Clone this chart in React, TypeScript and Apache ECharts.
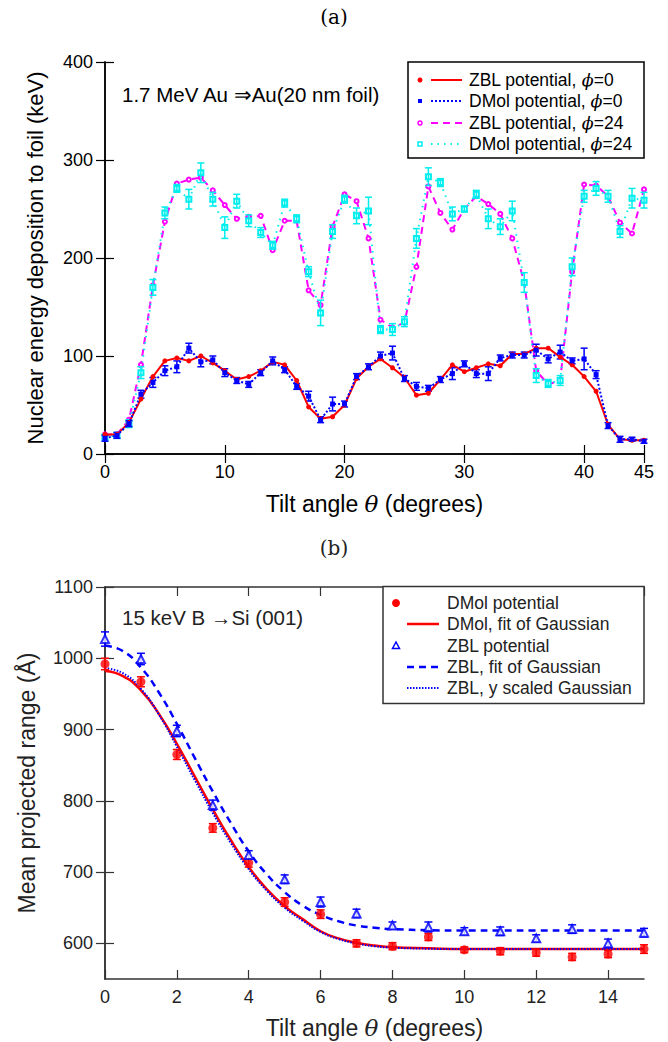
import React, { useEffect, useRef } from 'react';
import * as echarts from 'echarts';

// ---------- Data: panel (a) ----------
const anglesA = [0, 1, 2, 3, 4, 5, 6, 7, 8, 9, 10, 11, 12, 13, 14, 15, 16, 17, 18, 19, 20, 21, 22, 23, 24, 25, 26, 27, 28, 29, 30, 31, 32, 33, 34, 35, 36, 37, 38, 39, 40, 41, 42, 43, 44, 45];
const zblPhi0 = [20, 20, 32, 56, 79, 95, 98, 95, 100, 93, 85, 76, 79, 85, 94, 91, 75, 48, 36, 38, 50, 77, 89, 97, 88, 78, 60, 62, 76, 91, 84, 88, 92, 90, 102, 102, 108, 108, 99, 91, 79, 64, 30, 15, 14, 14];
const dmolPhi0 = [16, 19, 31, 61, 73, 85, 89, 108, 94, 96, 83, 75, 71, 83, 95, 86, 69, 59, 35, 51, 51, 79, 89, 100, 103, 77, 69, 67, 76, 82, 92, 82, 82, 98, 101, 101, 106, 97, 104, 95, 97, 81, 29, 15, 15, 13];
const dmolPhi0Err = [3, 3, 3, 4, 5, 5, 6, 5, 5, 4, 4, 3, 3, 3, 4, 3, 3, 5, 3, 7, 3, 3, 3, 4, 7, 3, 4, 3, 3, 6, 3, 4, 7, 3, 3, 3, 6, 4, 7, 3, 11, 4, 3, 3, 2, 2];
const zblPhi24 = [20, 20, 35, 91, 172, 237, 276, 280, 282, 269, 254, 240, 242, 243, 208, 238, 238, 167, 152, 232, 265, 258, 220, 137, 129, 134, 191, 273, 246, 229, 250, 263, 255, 245, 220, 175, 85, 71, 75, 186, 275, 274, 263, 236, 225, 270];
const dmolPhi24 = [17, 19, 31, 83, 170, 246, 271, 260, 287, 260, 231, 258, 238, 226, 213, 256, 240, 186, 144, 227, 260, 243, 248, 127, 127, 135, 220, 283, 277, 245, 250, 265, 240, 232, 248, 175, 80, 72, 75, 191, 263, 271, 263, 227, 261, 259];
const dmolPhi24Err = [3, 3, 4, 6, 8, 6, 4, 10, 10, 7, 11, 7, 6, 5, 4, 4, 4, 5, 13, 7, 4, 8, 14, 4, 6, 5, 10, 9, 4, 7, 3, 4, 10, 8, 10, 10, 7, 4, 5, 9, 6, 7, 6, 6, 10, 8];

// ---------- Data: panel (b) ----------
const anglesB = [0, 1, 2, 3, 4, 5, 6, 7, 8, 9, 10, 11, 12, 13, 14, 15];
const dmolRange = [992, 967, 865, 762, 713, 658, 641, 600, 596, 609, 591, 589, 587, 581, 585, 592];
const dmolRangeErr = [8, 7, 7, 6, 6, 6, 6, 5, 5, 5, 4, 5, 5, 5, 5, 6];
const zblRange = [1027, 999, 898, 794, 724, 690, 658, 642, 625, 623, 617, 617, 607, 620, 600, 615];
const zblRangeErr = [10, 8, 8, 7, 6, 6, 7, 6, 5, 7, 5, 6, 5, 6, 6, 6];
const fitAngles = [0, 0.5, 1, 1.5, 2, 2.5, 3, 3.5, 4, 4.5, 5, 5.5, 6, 6.5, 7, 7.5, 8, 9, 10, 11, 12, 13, 14, 15];
const dmolFit = [982, 975, 955, 922, 880, 834, 788, 745, 707, 676, 652, 634, 617, 607, 601, 597, 594.5, 593, 592, 592, 592, 592, 592, 592];
const zblFit = [1018, 1010, 987, 952, 908, 860, 813, 769, 729, 697, 672, 653, 640, 631, 625, 622, 620, 618.5, 618, 618, 618, 618, 618, 618];
const zblScaledFit = [986, 979, 957, 921, 876, 829, 783, 741, 704, 674, 650, 632, 616, 606, 600, 596, 594, 592.5, 592, 592, 592, 592, 592, 592];

const xTicksA = { min: 0, max: 45, interval: 10 };
const yTicksA = { min: 0, max: 400, interval: 100 };
const xTicksB = { min: 0, max: 15, interval: 2 };
const yTicksB = [600, 700, 800, 900, 1000, 1100];

const FONT = '"Liberation Sans", Arial, Helvetica, sans-serif';
const SERIF = '"DejaVu Serif", "Liberation Serif", serif';

const zip = (xs: number[], ys: number[]) => xs.map((x, i) => [x, ys[i]]);
const errData = (xs: number[], ys: number[], es: number[]) => xs.map((x, i) => [x, ys[i] - es[i], ys[i] + es[i]]);

function errSeries(data: number[][], color: string, xi: number, yi: number, cap: number, lw: number) {
  return {
    type: 'custom',
    xAxisIndex: xi,
    yAxisIndex: yi,
    silent: true,
    z: 3,
    data,
    encode: { x: 0, y: [1, 2] },
    renderItem: (_p: any, api: any) => {
      const x = api.value(0);
      const lo = api.coord([x, api.value(1)]);
      const hi = api.coord([x, api.value(2)]);
      const style = { stroke: color, lineWidth: lw };
      return {
        type: 'group',
        children: [
          { type: 'line', shape: { x1: lo[0], y1: lo[1], x2: hi[0], y2: hi[1] }, style },
          { type: 'line', shape: { x1: lo[0] - cap, y1: lo[1], x2: lo[0] + cap, y2: lo[1] }, style },
          { type: 'line', shape: { x1: hi[0] - cap, y1: hi[1], x2: hi[0] + cap, y2: hi[1] }, style },
        ],
      };
    },
  };
}

export default function App() {
  const ref = useRef<HTMLDivElement>(null);
  useEffect(() => {
    document.body.style.margin = '0';
    const chart = echarts.init(ref.current!, null, { renderer: 'svg' });

    const lineA = { color: '#000', width: 1.5 };
    const lineB = { color: '#333', width: 1.5 };
    const tick = (c: string) => ({ show: true, inside: true, length: 9, lineStyle: { color: c, width: 1.2 } });
    const NAME = 23;

    const xAxes = [
      {
        type: 'value', gridIndex: 0, position: 'bottom', ...xTicksA,
        axisLine: { lineStyle: lineA }, axisTick: tick('#000'), splitLine: { show: false },
        axisLabel: { color: '#000', fontSize: 18, fontFamily: FONT, margin: 9 },
        name: 'Tilt angle {i|θ} (degrees)', nameLocation: 'middle', nameGap: 38,
        nameTextStyle: { color: '#000', fontSize: NAME, fontFamily: FONT, rich: { i: { fontStyle: 'italic', fontSize: NAME, fontFamily: SERIF, color: '#000' } } },
      },
      {
        type: 'value', gridIndex: 0, position: 'top', ...xTicksA,
        axisLine: { lineStyle: lineA }, axisTick: tick('#000'), splitLine: { show: false }, axisLabel: { show: false },
      },
      {
        type: 'value', gridIndex: 1, position: 'bottom', ...xTicksB,
        axisLine: { lineStyle: lineB }, axisTick: tick('#333'), splitLine: { show: false },
        axisLabel: { color: '#222', fontSize: 18, fontFamily: FONT, margin: 9, showMaxLabel: false },
        name: 'Tilt angle {i|θ} (degrees)', nameLocation: 'middle', nameGap: 37,
        nameTextStyle: { color: '#222', fontSize: NAME, fontFamily: FONT, rich: { i: { fontStyle: 'italic', fontSize: NAME, fontFamily: SERIF, color: '#222' } } },
      },
      {
        type: 'value', gridIndex: 1, position: 'top', ...xTicksB,
        axisLine: { lineStyle: lineB }, axisTick: tick('#333'), splitLine: { show: false }, axisLabel: { show: false },
      },
    ];

    const yAxes = [
      {
        type: 'value', gridIndex: 0, position: 'left', ...yTicksA,
        axisLine: { show: true, lineStyle: lineA }, axisTick: tick('#000'), splitLine: { show: false },
        axisLabel: { color: '#000', fontSize: 18, fontFamily: FONT, margin: 12 },
        name: 'Nuclear energy deposition to foil (keV)', nameLocation: 'middle', nameGap: 59,
        nameTextStyle: { color: '#000', fontSize: 22, fontFamily: FONT },
      },
      {
        type: 'value', gridIndex: 0, position: 'right', ...yTicksA,
        axisLine: { show: true, lineStyle: lineA }, axisTick: tick('#000'), splitLine: { show: false }, axisLabel: { show: false },
      },
      {
        type: 'value', gridIndex: 1, position: 'left', min: 550, max: 1100,
        axisLine: { show: true, lineStyle: lineB }, axisTick: { ...tick('#333'), customValues: yTicksB }, splitLine: { show: false },
        axisLabel: { color: '#222', fontSize: 18, fontFamily: FONT, margin: 12, customValues: yTicksB, formatter: (v: number) => String(v) },
        name: 'Mean projected range (Å)', nameLocation: 'middle', nameGap: 67,
        nameTextStyle: { color: '#222', fontSize: 23, fontFamily: FONT },
      },
      {
        type: 'value', gridIndex: 1, position: 'right', min: 550, max: 1100,
        axisLine: { show: true, lineStyle: lineB }, axisTick: { ...tick('#333'), customValues: yTicksB }, splitLine: { show: false },
        axisLabel: { show: false },
      },
    ];

    const RED = '#ff0000', BLUE = '#0000ff', MAG = '#ff00ff', CYAN = '#00eeee';

    const series: any[] = [
      // panel (a)
      {
        name: 'ZBL potential, φ=24', type: 'line', xAxisIndex: 0, yAxisIndex: 0, data: zip(anglesA, zblPhi24),
        symbol: 'emptyCircle', symbolSize: 4, lineStyle: { color: MAG, width: 2, type: [7, 5] },
        itemStyle: { color: MAG, borderColor: MAG, borderWidth: 2 }, z: 2,
      },
      errSeries(errData(anglesA, dmolPhi24, dmolPhi24Err), CYAN, 0, 0, 3.5, 1.5),
      {
        name: 'DMol potential, φ=24', type: 'line', xAxisIndex: 0, yAxisIndex: 0, data: zip(anglesA, dmolPhi24),
        symbol: 'emptyRect', symbolSize: 5, lineStyle: { color: CYAN, width: 2, type: [1.5, 5] },
        itemStyle: { color: CYAN, borderColor: CYAN, borderWidth: 1.5 }, z: 2,
      },
      {
        name: 'ZBL potential, φ=0', type: 'line', xAxisIndex: 0, yAxisIndex: 0, data: zip(anglesA, zblPhi0),
        symbol: 'circle', symbolSize: 5, lineStyle: { color: RED, width: 2 }, itemStyle: { color: RED }, z: 4,
      },
      errSeries(errData(anglesA, dmolPhi0, dmolPhi0Err), BLUE, 0, 0, 3.5, 1.5),
      {
        name: 'DMol potential, φ=0', type: 'line', xAxisIndex: 0, yAxisIndex: 0, data: zip(anglesA, dmolPhi0),
        symbol: 'rect', symbolSize: 5, lineStyle: { color: BLUE, width: 2, type: [2, 2] }, itemStyle: { color: BLUE }, z: 4,
      },
      // panel (b)
      {
        name: 'DMol, fit of Gaussian', type: 'line', xAxisIndex: 2, yAxisIndex: 2, data: zip(fitAngles, dmolFit),
        symbol: 'none', smooth: true, lineStyle: { color: RED, width: 2.5 }, z: 2,
      },
      {
        name: 'ZBL, y scaled Gaussian', type: 'line', xAxisIndex: 2, yAxisIndex: 2, data: zip(fitAngles, zblScaledFit),
        symbol: 'none', smooth: true, lineStyle: { color: BLUE, width: 2, type: [1.5, 1.5] }, z: 2,
      },
      {
        name: 'ZBL, fit of Gaussian', type: 'line', xAxisIndex: 2, yAxisIndex: 2, data: zip(fitAngles, zblFit),
        symbol: 'none', smooth: true, lineStyle: { color: BLUE, width: 2.5, type: [7, 5] }, z: 2,
      },
      errSeries(errData(anglesB, dmolRange, dmolRangeErr), RED, 2, 2, 4, 1.5),
      {
        name: 'DMol potential', type: 'scatter', xAxisIndex: 2, yAxisIndex: 2, data: zip(anglesB, dmolRange),
        symbol: 'circle', symbolSize: 9, itemStyle: { color: RED }, z: 4,
      },
      errSeries(errData(anglesB, zblRange, zblRangeErr), BLUE, 2, 2, 4, 1.5),
      {
        name: 'ZBL potential', type: 'scatter', xAxisIndex: 2, yAxisIndex: 2, data: zip(anglesB, zblRange),
        symbol: 'emptyTriangle', symbolSize: 8, itemStyle: { color: BLUE, borderColor: BLUE, borderWidth: 1.5 }, z: 4,
      },
    ];

    const txt = (x: number, y: number, text: string, size: number, color: string, extra: any = {}) => ({
      type: 'text', x, y, z: 100,
      style: { text, fontSize: size, fontFamily: FONT, fill: color, verticalAlign: 'middle', ...extra },
    });
    const LEG = 17.5;
    const richPhi = (color: string) => ({ i: { fontStyle: 'italic', fontFamily: SERIF, fontSize: LEG, fill: color, color } });
    const legText = (y: number, text: string) => ({
      type: 'text', x: 469, y, z: 100,
      style: { text, fontSize: LEG, fontFamily: FONT, fill: '#000', verticalAlign: 'middle', rich: richPhi('#000') },
    });
    const hline = (x1: number, x2: number, y: number, color: string, w: number, dash?: number[]) => ({
      type: 'line', z: 100, shape: { x1, y1: y, x2, y2: y },
      style: { stroke: color, lineWidth: w, lineDash: dash },
    });

    const legA_x = 408, legA_y = 62;
    const rowsA = [80, 101, 123, 144];
    const legB_x = 383, legB_y = 586.5;
    const rowsB = [603, 624, 646, 667, 688];

    const graphic: any[] = [
      txt(334, 17, '(a)', 20, '#000', { fontFamily: SERIF, align: 'center' }),
      txt(334, 548, '(b)', 20, '#222', { fontFamily: SERIF, align: 'center' }),
      txt(122, 94, '1.7 MeV Au ⇒Au(20 nm foil)', 20.5, '#000'),
      txt(122, 617, '15 keV B →Si (001)', 20.5, '#222'),
      // legend (a)
      { type: 'rect', z: 99, shape: { x: legA_x, y: legA_y, width: 236, height: 96 }, style: { fill: '#fff', stroke: '#000', lineWidth: 1.5 } },
      { type: 'circle', z: 100, shape: { cx: 420, cy: rowsA[0], r: 2.5 }, style: { fill: RED } },
      hline(431, 462, rowsA[0], RED, 2),
      { type: 'rect', z: 100, shape: { x: 418, y: rowsA[1] - 2, width: 4, height: 4 }, style: { fill: BLUE } },
      hline(431, 462, rowsA[1], BLUE, 2, [2, 2]),
      { type: 'circle', z: 100, shape: { cx: 420, cy: rowsA[2], r: 2 }, style: { fill: '#fff', stroke: MAG, lineWidth: 1.5 } },
      hline(431, 462, rowsA[2], MAG, 2, [7, 5]),
      { type: 'rect', z: 100, shape: { x: 418, y: rowsA[3] - 2, width: 4, height: 4 }, style: { fill: '#fff', stroke: CYAN, lineWidth: 1.5 } },
      hline(431, 462, rowsA[3], CYAN, 2, [1.5, 5]),
      legText(rowsA[0], 'ZBL potential, {i|ϕ}=0'),
      legText(rowsA[1], 'DMol potential, {i|ϕ}=0'),
      legText(rowsA[2], 'ZBL potential, {i|ϕ}=24'),
      legText(rowsA[3], 'DMol potential, {i|ϕ}=24'),
      // legend (b)
      { type: 'rect', z: 99, shape: { x: legB_x, y: legB_y, width: 261, height: 117 }, style: { fill: '#fff', stroke: '#333', lineWidth: 1.5 } },
      { type: 'circle', z: 100, shape: { cx: 396, cy: rowsB[0], r: 4 }, style: { fill: RED } },
      hline(407, 439, rowsB[1], RED, 2.5),
      { type: 'polygon', z: 100, shape: { points: [[396, rowsB[2] - 4], [392.5, rowsB[2] + 2.5], [399.5, rowsB[2] + 2.5]] }, style: { fill: '#fff', stroke: BLUE, lineWidth: 1.5 } },
      hline(407, 439, rowsB[3], BLUE, 2.5, [7, 5]),
      hline(407, 439, rowsB[4], BLUE, 2, [1.5, 1.5]),
      txt(447, rowsB[0], 'DMol potential', LEG, '#222'),
      txt(447, rowsB[1], 'DMol, fit of Gaussian', LEG, '#222'),
      txt(447, rowsB[2], 'ZBL potential', LEG, '#222'),
      txt(447, rowsB[3], 'ZBL, fit of Gaussian', LEG, '#222'),
      txt(447, rowsB[4], 'ZBL, y scaled Gaussian', LEG, '#222'),
    ];

    chart.setOption({
      animation: false,
      backgroundColor: '#fff',
      grid: [
        { left: 105, top: 62, width: 539, height: 392 },
        { left: 105, top: 587, width: 539, height: 392 },
      ],
      xAxis: xAxes,
      yAxis: yAxes,
      series,
      graphic,
    });
    return () => chart.dispose();
  }, []);
  return <div ref={ref} style={{ width: 668, height: 1042 }} />;
}
